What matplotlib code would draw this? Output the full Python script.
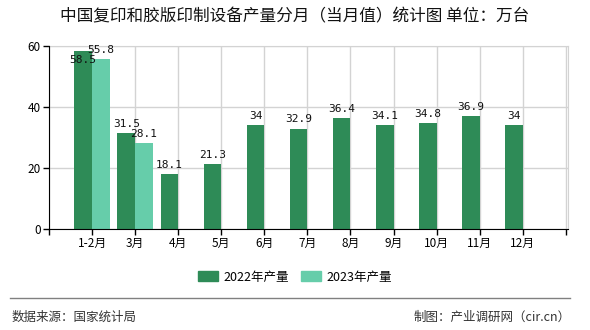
import matplotlib; matplotlib.use('Agg')
import matplotlib.pyplot as plt
from matplotlib.patches import Patch
from matplotlib.lines import Line2D
import numpy as np

plt.rcParams['font.family'] = ['Noto Sans CJK SC', 'DejaVu Sans']

months = ["1-2月", "3月", "4月", "5月", "6月", "7月", "8月", "9月", "10月", "11月", "12月"]
output_2022 = [58.5, 31.5, 18.1, 21.3, 34, 32.9, 36.4, 34.1, 34.8, 36.9, 34]
output_2023 = [55.8, 28.1]
series_names = ["2022年产量", "2023年产量"]

c22, c23 = "#2e8b57", "#66cdaa"
grid_c = "#d3d3d3"

fig = plt.figure(figsize=(5.9, 3.3), dpi=100)
ax = fig.add_axes([49/590, 101/330, 519/590, 183/330])

x = np.arange(len(months))
w = 0.41
ax.bar(x - w/2, output_2022, width=w, color=c22, zorder=3)
x23 = x[:len(output_2023)]
ax.bar(x23 + w/2, output_2023, width=w, color=c23, zorder=3)

lab = dict(family=['DejaVu Sans Mono'], fontsize=8, ha='center', color='#111111')
for i, v in enumerate(output_2022):
    txt = f"{v:g}"
    if i == 0:
        # collides with the 2023 label, so tuck it under the bar top
        ax.annotate(txt, (x[i] - w/2, v), xytext=(0, -3), textcoords='offset points', va='top', zorder=4, **lab)
    else:
        ax.annotate(txt, (x[i] - w/2, v), xytext=(0, 3), textcoords='offset points', va='bottom', zorder=4, **lab)
for i, v in enumerate(output_2023):
    ax.annotate(f"{v:g}", (x23[i] + w/2, v), xytext=(0, 3), textcoords='offset points', va='bottom', zorder=4, **lab)

ax.set_xlim(-1, 11.05)
ax.set_ylim(0, 60)
ax.set_xticks(np.arange(-1, 12))
ax.set_xticklabels([""] + months + [""], fontsize=8.5)
ax.set_yticks([0, 20, 40, 60])
ax.set_yticklabels(["0", "20", "40", "60"], fontsize=8.5)
ax.tick_params(axis='both', length=4, width=1, color='black', pad=2)
ax.grid(True, color=grid_c, linewidth=1, zorder=0)
for s in ["top", "right"]:
    ax.spines[s].set_color(grid_c)
for s in ["left", "bottom"]:
    ax.spines[s].set_color("black")
    ax.spines[s].set_zorder(5)

fig.text(0.5, 1 - 17/330, "中国复印和胶版印制设备产量分月（当月值）统计图 单位：万台",
         ha='center', va='center', fontsize=12, color='#111111')

handles = [Patch(color=c22), Patch(color=c23)]
fig.legend(handles, series_names, loc='center', bbox_to_anchor=(0.5, 1 - 277/330),
           ncol=2, frameon=False, fontsize=9, handlelength=1.6, handleheight=0.9,
           columnspacing=1.0, handletextpad=0.4)

fig.add_artist(Line2D([10/590, 570/590], [1 - 298/330] * 2, color='#808080', linewidth=1,
                      transform=fig.transFigure))
fig.text(12/590, 1 - 317/330, "数据来源：国家统计局", ha='left', va='center', fontsize=9, color='#333333')
fig.text(571/590, 1 - 317/330, "制图：产业调研网（cir.cn）", ha='right', va='center', fontsize=9, color='#333333')

fig.savefig("out.png", dpi=100)
